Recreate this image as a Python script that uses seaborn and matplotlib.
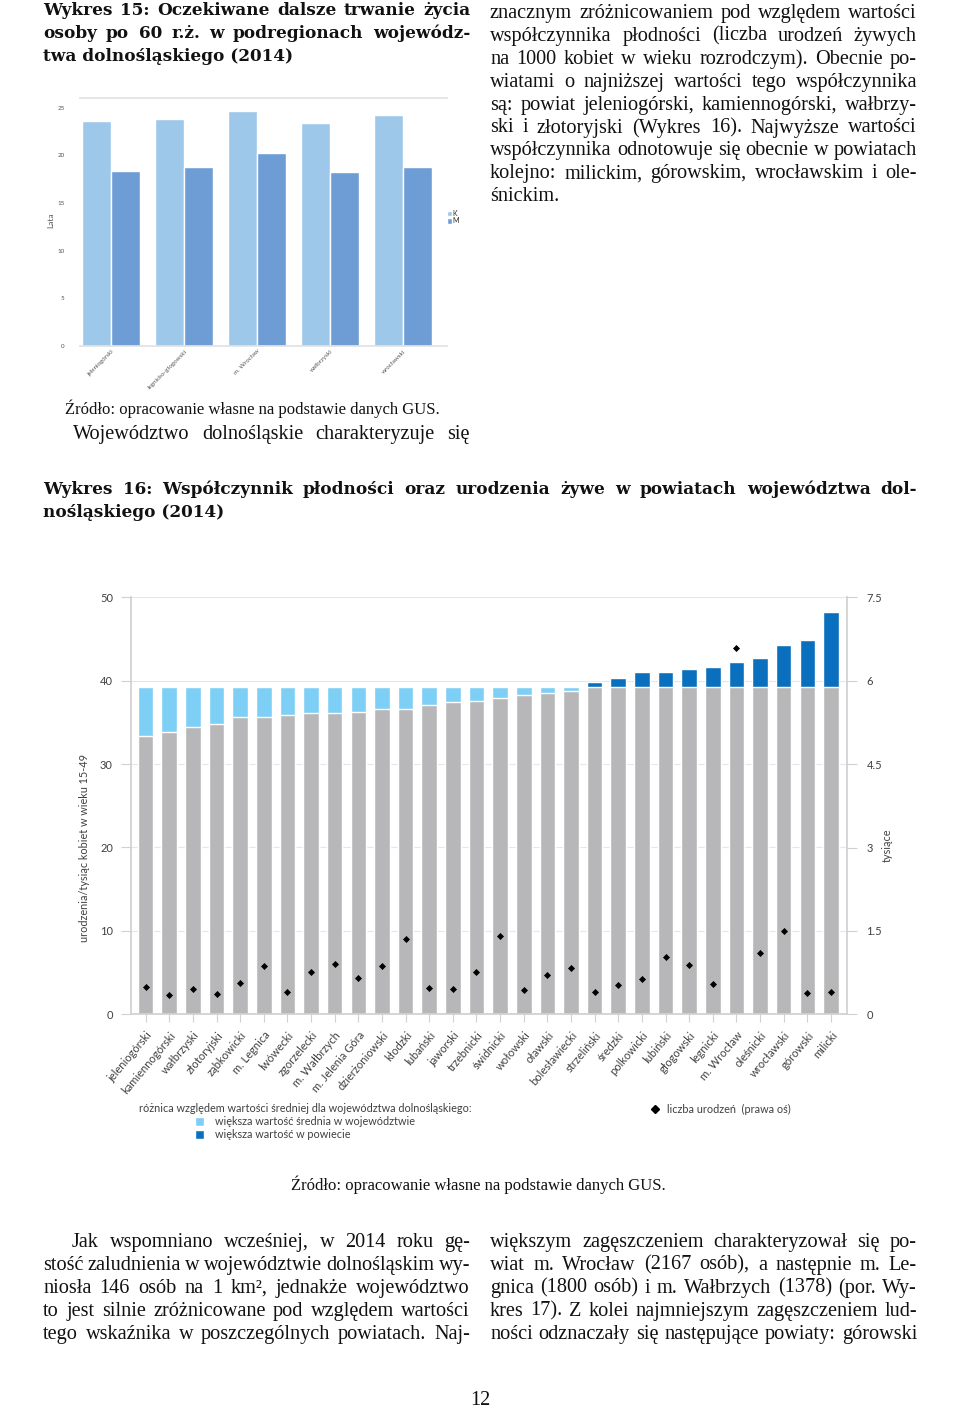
import numpy as np
import pandas as pd
import matplotlib
matplotlib.use('Agg')
import matplotlib.pyplot as plt
from matplotlib.patches import Patch
from matplotlib.lines import Line2D
import seaborn as sns

W, H = 960, 1410

# --- Wykres 15: oczekiwane dalsze trwanie zycia po 60 r.z. (lata)
podregiony = ['jeleniogórski', 'legnicko-głogowski', 'm. Wrocław', 'wałbrzyski', 'wrocławski']
lata_k = [23.6, 23.8, 24.6, 23.4, 24.2]
lata_m = [18.3, 18.8, 20.2, 18.2, 18.8]

# --- Wykres 16: wspolczynnik plodnosci i urodzenia zywe
powiaty = ['jeleniogórski', 'kamiennogórski', 'wałbrzyski', 'złotoryjski', 'ząbkowicki',
           'm. Legnica', 'lwówecki', 'zgorzelecki', 'm. Wałbrzych', 'm. Jelenia Góra',
           'dzierżoniowski', 'kłodzki', 'lubański', 'jaworski', 'trzebnicki',
           'świdnicki', 'wołowski', 'oławski', 'bolesławiecki', 'strzeliński',
           'średzki', 'polkowicki', 'lubiński', 'głogowski', 'legnicki',
           'm. Wrocław', 'oleśnicki', 'wrocławski', 'górowski', 'milicki']
wsp_plodnosci = [33.4, 33.8, 34.4, 34.8, 35.7, 35.7, 35.9, 36.1, 36.1, 36.3,
                 36.6, 36.6, 37.1, 37.5, 37.6, 37.9, 38.3, 38.5, 38.8, 39.9,
                 40.3, 41.0, 41.0, 41.4, 41.6, 42.3, 42.7, 44.3, 44.9, 48.2]
srednia_woj = 39.3
urodzenia_tys = [0.50, 0.34, 0.46, 0.37, 0.56, 0.86, 0.40, 0.76, 0.91, 0.65,
                 0.86, 1.35, 0.47, 0.45, 0.76, 1.41, 0.43, 0.70, 0.84, 0.41,
                 0.52, 0.64, 1.03, 0.89, 0.54, 6.58, 1.11, 1.50, 0.38, 0.41]
prawa_os_ticks = [0, 1.5, 3, 4.5, 6, 7.5]
prawa_os_labels = ['0', '1.5', '3', '4.5', '6', '7.5']

# --- tekst strony
tytul15 = ['Wykres 15: Oczekiwane dalsze trwanie życia',
           'osoby po 60 r.ż. w podregionach wojewódz-',
           'twa dolnośląskiego (2014)']
akapit_prawy = ['znacznym zróżnicowaniem pod względem wartości',
                'współczynnika płodności (liczba urodzeń żywych',
                'na 1000 kobiet w wieku rozrodczym). Obecnie po-',
                'wiatami o najniższej wartości tego współczynnika',
                'są: powiat jeleniogórski, kamiennogórski, wałbrzy-',
                'ski i złotoryjski (Wykres 16). Najwyższe wartości',
                'współczynnika odnotowuje się obecnie w powiatach',
                'kolejno: milickim, górowskim, wrocławskim i ole-',
                'śnickim.']
zrodlo = 'Źródło: opracowanie własne na podstawie danych GUS.'
tytul16 = ['Wykres 16: Współczynnik płodności oraz urodzenia żywe w powiatach województwa dol-',
           'nośląskiego (2014)']
dol_lewy = ['Jak wspomniano wcześniej, w 2014 roku gę-',
            'stość zaludnienia w województwie dolnośląskim wy-',
            'niosła 146 osób na 1 km², jednakże województwo',
            'to jest silnie zróżnicowane pod względem wartości',
            'tego wskaźnika w poszczególnych powiatach. Naj-']
dol_prawy = ['większym zagęszczeniem charakteryzował się po-',
             'wiat m. Wrocław (2167 osób), a następnie m. Le-',
             'gnica (1800 osób) i m. Wałbrzych (1378) (por. Wy-',
             'kres 17). Z kolei najmniejszym zagęszczeniem lud-',
             'ności odznaczały się następujące powiaty: górowski']

sns.set_theme(style='white')
plt.rcParams['font.family'] = ['Lato', 'DejaVu Sans']
SERIF = ['Liberation Serif', 'DejaVu Serif']
BOLD_SERIF = ['DejaVu Serif']
GREY, LIGHT, DARK = '#B7B7B9', '#7ECFF6', '#0A70BE'
TXT = '#404040'

fig = plt.figure(figsize=(W / 100, H / 100), dpi=100)
rend = fig.canvas.get_renderer()


def fx(x):
    return x / W


def fy(y):
    return 1 - y / H


def box(l, t, r, b):
    return [l / W, 1 - b / H, (r - l) / W, (b - t) / H]


def line(txt, x0, x1, y, size=14, weight='normal', justify=True):
    fam = BOLD_SERIF if weight == 'bold' else SERIF
    if not justify:
        fig.text(fx(x0), fy(y), txt, fontsize=size, fontweight=weight,
                 family=fam, va='baseline', color='#111111')
        return
    words = txt.split()
    arts = [fig.text(0, fy(y), w, fontsize=size, fontweight=weight,
                     family=fam, va='baseline', color='#111111') for w in words]
    widths = [a.get_window_extent(rend).width for a in arts]
    gap = (x1 - x0 - sum(widths)) / (len(words) - 1)
    x = x0
    for a, w in zip(arts, widths):
        a.set_x(fx(x))
        x += w + gap


def para(lines, x0, x1, y0, step=22.9, size=14, weight='normal', indent=0, last_just=False):
    for i, t in enumerate(lines):
        last = i == len(lines) - 1
        line(t, x0 + (indent if i == 0 else 0), x1, y0 + i * step, size, weight,
             justify=(not last) or last_just)


BODY = 14.6
TYT = 12.2

# teksty
para(tytul15, 43, 470, 15, size=TYT, weight='bold')
para(akapit_prawy, 490, 917, 18, size=BODY)
fig.text(fx(65), fy(414), zrodlo, fontsize=12, family=SERIF, va='baseline', color='#111111')
line('Województwo dolnośląskie charakteryzuje się', 73, 470, 439, size=BODY)
para(tytul16, 43, 917, 494, size=TYT, weight='bold')
fig.text(fx(478), fy(1190), zrodlo, fontsize=12, family=SERIF, va='baseline',
         ha='center', color='#111111')
para(dol_lewy, 43, 470, 1247, size=BODY, indent=29, last_just=True)
para(dol_prawy, 490, 917, 1247, size=BODY, last_just=True)
fig.text(fx(480), fy(1405), '12', fontsize=BODY, family=SERIF, va='baseline',
         ha='center', color='#111111')

# --- Wykres 15
df15 = pd.DataFrame({'podregion': podregiony * 2,
                     'płeć': ['K'] * len(podregiony) + ['M'] * len(podregiony),
                     'lata': lata_k + lata_m})
ax1 = fig.add_axes(box(80, 98, 447, 346))
sns.barplot(data=df15, x='podregion', y='lata', hue='płeć', palette=['#9DC8EA', '#6E9DD6'],
            width=0.8, saturation=1, ax=ax1)
ax1.set_xlim(-0.425, 4.6)
ax1.set_ylim(0, 26)
ax1.set_yticks([0, 5, 10, 15, 20, 25])
ax1.set_xlabel('')
ax1.set_ylabel('')
ax1.tick_params(axis='y', length=0, pad=11, labelsize=4.5, labelcolor='#555555')
ax1.tick_params(axis='x', length=0, pad=2, labelsize=4.5, labelcolor='#555555')
plt.setp(ax1.get_xticklabels(), rotation=45, ha='right', rotation_mode='anchor')
for s in ['left', 'right']:
    ax1.spines[s].set_visible(False)
for s in ['top', 'bottom']:
    ax1.spines[s].set_color('#E2E2E2')
ax1.legend(loc='center left', bbox_to_anchor=(1.0, 0.52), frameon=False, fontsize=5,
           handlelength=0.7, handleheight=0.9, handletextpad=0.1, labelspacing=0.05,
           borderaxespad=0, borderpad=0)
fig.text(fx(51), fy(220), 'Lata', rotation=90, fontsize=6, ha='center', va='center',
         color='#555555')

# --- Wykres 16
gora = [max(v, srednia_woj) for v in wsp_plodnosci]
szary = [min(v, srednia_woj) for v in wsp_plodnosci]
kolory = [DARK if v > srednia_woj else LIGHT for v in wsp_plodnosci]

ax = fig.add_axes(box(131, 597.3, 847, 1014.3))
ax.set_axisbelow(True)
ax.yaxis.grid(True, color='#E6E6E6', lw=0.8)
sns.barplot(x=powiaty, y=gora, hue=powiaty, palette=kolory, legend=False,
            width=0.66, saturation=1, ax=ax)
sns.barplot(x=powiaty, y=szary, color=GREY, width=0.66, saturation=1, ax=ax)
ax.set_ylim(0, 50)
ax.set_yticks([0, 10, 20, 30, 40, 50])

ax2 = ax.twinx()
sns.stripplot(x=powiaty, y=urodzenia_tys, jitter=False, marker='D', size=3.6,
              color='black', linewidth=0, ax=ax2)
ax2.set_ylim(0, 7.5)
ax2.set_yticks(prawa_os_ticks)
ax2.set_yticklabels(prawa_os_labels)
ax.set_xlim(-0.62, 29.68)

ax.set_xticks(range(len(powiaty)))
ax.set_xticklabels(powiaty, rotation=50, ha='right', rotation_mode='anchor')
ax.tick_params(axis='x', length=6, width=0.8, color='#D0D0D0', pad=5,
               labelsize=8, labelcolor=TXT, bottom=True)
ax.tick_params(axis='y', length=7, width=0.8, color='#D0D0D0', pad=6,
               labelsize=8, labelcolor=TXT, left=True)
ax2.tick_params(axis='y', length=7, width=0.8, color='#D0D0D0', pad=7,
                labelsize=8, labelcolor=TXT, right=True)
ax2.tick_params(axis='x', length=0)
for a in (ax, ax2):
    a.set_xlabel('')
    a.set_ylabel('')
    a.spines['top'].set_visible(False)
for s in ['left', 'bottom']:
    ax.spines[s].set_color('#D0D0D0')
ax.spines['right'].set_visible(False)
ax2.spines['left'].set_visible(False)
ax2.spines['bottom'].set_visible(False)
ax2.spines['right'].set_color('#D0D0D0')

fig.text(fx(84), fy(848), 'urodzenia/tysiąc kobiet w wieku 15-49', rotation=90,
         fontsize=7.8, ha='center', va='center', color=TXT)
fig.text(fx(887), fy(845), 'tysiące', rotation=90, fontsize=7.8, ha='center',
         va='center', color=TXT)

leg1 = ax.legend(handles=[Patch(facecolor=LIGHT, label='większa wartość średnia w województwie'),
                          Patch(facecolor=DARK, label='większa wartość w powiecie')],
                 title='różnica względem wartości średniej dla województwa dolnośląskiego:',
                 loc='upper center', bbox_to_anchor=(fx(305), fy(1103)),
                 bbox_transform=fig.transFigure, frameon=False, fontsize=7.8,
                 title_fontsize=7.8, handlelength=0.9, handleheight=0.9,
                 handletextpad=1.0, labelspacing=0.2, borderpad=0, borderaxespad=0)
for t in leg1.get_texts() + [leg1.get_title()]:
    t.set_color(TXT)
leg2 = ax2.legend(handles=[Line2D([], [], marker='D', color='black', ls='none',
                                  markersize=3.6, label='liczba urodzeń  (prawa oś)')],
                  loc='upper left', bbox_to_anchor=(fx(650), fy(1104)),
                  bbox_transform=fig.transFigure, frameon=False, fontsize=7.8,
                  handlelength=1.0, handletextpad=0.6, borderpad=0, borderaxespad=0)
for t in leg2.get_texts():
    t.set_color(TXT)

fig.savefig('out.png', dpi=100)
